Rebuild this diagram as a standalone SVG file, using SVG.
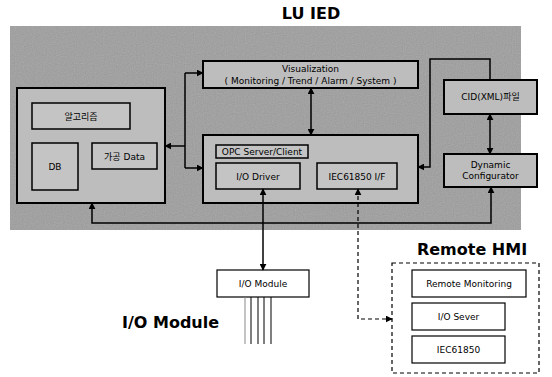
<svg xmlns="http://www.w3.org/2000/svg" width="552" height="377" viewBox="0 0 552 377">
<defs>
<marker id="ah" viewBox="0 0 10 10" refX="9" refY="5" markerWidth="7" markerHeight="7" orient="auto-start-reverse" markerUnits="userSpaceOnUse">
<path d="M0,0 L10,5 L0,10 z" fill="#000"/>
</marker>
<filter id="noise" x="0" y="0" width="100%" height="100%">
<feTurbulence type="fractalNoise" baseFrequency="0.9" numOctaves="1" seed="3" result="n"/>
<feColorMatrix type="saturate" values="0" in="n" result="g"/>
<feComponentTransfer in="g" result="c"><feFuncA type="linear" slope="0" intercept="0.35"/></feComponentTransfer>
<feComposite in="c" in2="SourceGraphic" operator="in" result="m"/>
<feBlend in="SourceGraphic" in2="m" mode="multiply"/>
</filter>
</defs>
<style>
.box{fill:#bdbdbd;stroke:#000;stroke-width:2}
.ibox{fill:#c4c4c4;stroke:#000;stroke-width:1.5}
.wbox{fill:#fff;stroke:#000;stroke-width:1.2}
.dash{fill:none;stroke:#000;stroke-width:1.2;stroke-dasharray:4,3}
.ln{fill:none;stroke:#000;stroke-width:1.5}
.t{font-family:"DejaVu Sans",Verdana,sans-serif;font-size:9px;fill:#000;text-anchor:middle}
.w{font-family:"DejaVu Sans","Noto Sans CJK KR",sans-serif;font-size:9px;fill:#000;text-anchor:middle}
.h{font-family:"DejaVu Sans",Verdana,sans-serif;font-weight:bold;fill:#000}
</style>
<rect x="10" y="26" width="511" height="204" fill="#b0b0b0" filter="url(#noise)"/>
<text class="h" x="311" y="19" font-size="16" text-anchor="middle">LU IED</text>

<g id="left">
<rect class="box" x="17" y="88" width="148" height="115"/>
<g id="algo"><rect class="ibox" x="32" y="103" width="98" height="26"/><text class="w" x="81" y="119.5">알고리즘</text></g>
<g id="db"><rect class="ibox" x="32" y="143" width="46" height="47"/><text class="w" x="55" y="169.5">DB</text></g>
<g id="data"><rect class="ibox" x="92" y="143" width="65" height="26"/><text class="w" x="124.5" y="159.5">가공 Data</text></g>
</g>

<g id="viz">
<rect class="box" x="203" y="61" width="215" height="27"/>
<text class="t" x="310.5" y="72">Visualization</text>
<text class="t" x="310.5" y="84">( Monitoring / Trend / Alarm / System )</text>
</g>

<g id="opc">
<rect class="box" x="203" y="135" width="215" height="68"/>
<g id="opcsc"><rect class="ibox" x="216" y="145" width="92" height="13"/><text class="t" x="262" y="155">OPC Server/Client</text></g>
<g id="iodrv"><rect class="ibox" x="216" y="163" width="84" height="26"/><text class="t" x="258" y="179.5">I/O Driver</text></g>
<g id="iecif"><rect class="ibox" x="317" y="163" width="80" height="26"/><text class="t" x="357" y="179.5">IEC61850 I/F</text></g>
</g>

<g id="cid"><rect class="box" x="444" y="80" width="93" height="34"/><text class="w" x="490.5" y="100">CID(XML)파일</text></g>
<g id="dyn"><rect class="box" x="444" y="154" width="93" height="33"/><text class="t" x="490.5" y="168">Dynamic</text><text class="t" x="490.5" y="179">Configurator</text></g>

<g id="iomod">
<rect class="wbox" x="217" y="270" width="92" height="27"/>
<text class="t" x="263" y="287">I/O Module</text>
<path d="M245,297V344" stroke="#888" stroke-width="1"/>
<path d="M251,297V344M258,297V344M264,297V344M271,297V344" stroke="#000" stroke-width="1"/>
</g>
<text class="h" x="122" y="328" font-size="16">I/O Module</text>

<g id="hmi">
<text class="h" x="472" y="255" font-size="16" text-anchor="middle">Remote HMI</text>
<path class="dash" d="M392,263H539V373H392Z"/>
<g id="rmon"><rect class="wbox" x="412" y="270" width="114" height="27"/><text class="t" x="469" y="287">Remote Monitoring</text></g>
<g id="iosv"><rect class="wbox" x="412" y="303" width="93" height="27"/><text class="t" x="458.5" y="320">I/O Sever</text></g>
<g id="iec"><rect class="wbox" x="412" y="336" width="93" height="27"/><text class="t" x="458.5" y="353">IEC61850</text></g>
</g>

<g id="connectors">
<path class="ln" d="M185,73V168"/>
<path class="ln" d="M185,73H203" marker-end="url(#ah)"/>
<path class="ln" d="M185,168H203" marker-end="url(#ah)"/>
<path class="ln" d="M185,146H165" marker-end="url(#ah)"/>
<path class="ln" d="M311,88V135" marker-start="url(#ah)" marker-end="url(#ah)"/>
<path class="ln" d="M490,80V59H430V167H418" marker-end="url(#ah)"/>
<path class="ln" d="M490,114V154" marker-start="url(#ah)" marker-end="url(#ah)"/>
<path class="ln" d="M92,203V223H491V187" marker-start="url(#ah)" marker-end="url(#ah)"/>
<path class="ln" d="M263,189V270" marker-start="url(#ah)" marker-end="url(#ah)"/>
<path class="dash" d="M358,189V319H392" marker-start="url(#ah)" marker-end="url(#ah)"/>
</g>
</svg>
